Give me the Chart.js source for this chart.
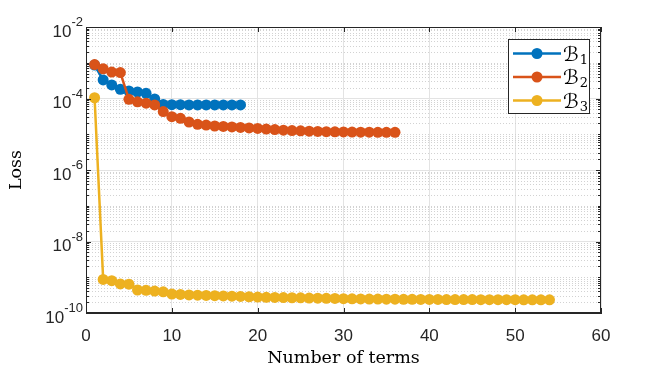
<!DOCTYPE html>
<html>
<head>
<meta charset="utf-8">
<script src="https://cdn.jsdelivr.net/npm/chart.js@4.4.0/dist/chart.umd.min.js"></script>
<style>
  html, body { margin: 0; padding: 0; background: #fff; }
  #wrap { width: 664px; height: 373px; }
</style>
</head>
<body>
<div id="wrap"><canvas id="loss-chart" width="664" height="373"></canvas></div>
<script>
// number of terms (x) - each series uses the first N of these
const terms = [1, 2, 3, 4, 5, 6, 7, 8, 9, 10, 11, 12, 13, 14, 15, 16, 17, 18,
    19, 20, 21, 22, 23, 24, 25, 26, 27, 28, 29, 30, 31, 32, 33, 34, 35, 36,
    37, 38, 39, 40, 41, 42, 43, 44, 45, 46, 47, 48, 49, 50, 51, 52, 53, 54];

const lossB1 = [8.6e-4, 3.3e-4, 2.4e-4, 1.8e-4, 1.62e-4, 1.52e-4, 1.4e-4, 9.7e-5, 6.8e-5,
    6.7e-5, 6.7e-5, 6.6e-5, 6.6e-5, 6.6e-5, 6.6e-5, 6.6e-5, 6.6e-5, 6.6e-5];

const lossB2 = [8.9e-4, 6.8e-4, 5.5e-4, 5.3e-4, 9.5e-5, 8.1e-5, 7.4e-5, 6.6e-5, 4.3e-5,
    3.1e-5, 2.8e-5, 2.2e-5, 1.9e-5, 1.8e-5, 1.7e-5, 1.65e-5, 1.6e-5, 1.55e-5,
    1.5e-5, 1.45e-5, 1.4e-5, 1.35e-5, 1.3e-5, 1.27e-5, 1.25e-5, 1.22e-5, 1.2e-5,
    1.18e-5, 1.17e-5, 1.16e-5, 1.15e-5, 1.14e-5, 1.14e-5, 1.13e-5, 1.13e-5, 1.13e-5];

const lossB3 = [1.05e-4, 8.7e-10, 8.0e-10, 6.5e-10, 6.4e-10, 4.4e-10, 4.3e-10, 4.1e-10, 3.9e-10,
    3.4e-10, 3.3e-10, 3.2e-10, 3.15e-10, 3.1e-10, 3.05e-10, 3.0e-10, 2.95e-10, 2.9e-10,
    2.85e-10, 2.8e-10, 2.75e-10, 2.72e-10, 2.7e-10, 2.67e-10, 2.65e-10, 2.62e-10, 2.6e-10,
    2.57e-10, 2.55e-10, 2.52e-10, 2.5e-10, 2.48e-10, 2.46e-10, 2.45e-10, 2.44e-10, 2.43e-10,
    2.42e-10, 2.41e-10, 2.4e-10, 2.4e-10, 2.39e-10, 2.38e-10, 2.38e-10, 2.37e-10, 2.37e-10,
    2.36e-10, 2.36e-10, 2.35e-10, 2.35e-10, 2.35e-10, 2.34e-10, 2.34e-10, 2.34e-10, 2.33e-10];

const seriesLabels = ['ℬ₁', 'ℬ₂', 'ℬ₃'];
const seriesColors = ['#0072BD', '#D95319', '#EDB120'];

const xTicks = [0, 10, 20, 30, 40, 50, 60];
const yTickExponents = [-10, -8, -6, -4, -2];

const AXIS_COLOR = '#262626';
const TICK_FONT = '"Liberation Sans", Arial, sans-serif';
const SERIF_FONT = '"DejaVu Serif", "Liberation Serif", serif';

function toPoints(values) {
    return values.map((v, i) => ({ x: terms[i], y: v }));
}

function makeDataset(label, values, color, order) {
    return {
        label: label,
        data: toPoints(values),
        borderColor: color,
        backgroundColor: color,
        borderWidth: 2.5,
        pointRadius: 5.5,
        pointBorderWidth: 0,
        pointBackgroundColor: color,
        tension: 0,
        order: order
    };
}

// MATLAB-ish extras: dotted minor grid, inward ticks, box, sup labels, legend
const matlabAxes = {
    id: 'matlabAxes',
    beforeDatasetsDraw(chart) {
        const { ctx, chartArea: a, scales: { y } } = chart;
        ctx.save();
        ctx.strokeStyle = '#d2d2d2';
        ctx.lineWidth = 1;
        ctx.setLineDash([1, 2]);
        for (let e = -10; e < -2; e++) {
            for (let k = 1; k < 10; k++) {
                if (k === 1 && e % 2 === 0) continue;
                const py = Math.round(y.getPixelForValue(k * Math.pow(10, e))) + 0.5;
                ctx.beginPath();
                ctx.moveTo(a.left, py);
                ctx.lineTo(a.right, py);
                ctx.stroke();
            }
        }
        ctx.restore();
    },
    afterDraw(chart) {
        const { ctx, chartArea: a, scales: { x, y } } = chart;
        ctx.save();
        ctx.strokeStyle = AXIS_COLOR;
        ctx.lineWidth = 1;

        // box
        ctx.strokeRect(a.left + 0.5, a.top + 0.5, a.right - a.left - 1, a.bottom - a.top - 1);

        // x ticks, bottom and top, pointing in
        xTicks.forEach(v => {
            const px = Math.round(x.getPixelForValue(v)) + 0.5;
            ctx.beginPath();
            ctx.moveTo(px, a.bottom); ctx.lineTo(px, a.bottom - 5);
            ctx.moveTo(px, a.top); ctx.lineTo(px, a.top + 5);
            ctx.stroke();
        });

        // y ticks, major and minor, left and right
        for (let e = -10; e <= -2; e++) {
            for (let k = 1; k < 10; k++) {
                if (e === -2 && k > 1) break;
                const major = k === 1 && e % 2 === 0;
                const len = major ? 5 : 3;
                const py = Math.round(y.getPixelForValue(k * Math.pow(10, e))) + 0.5;
                ctx.beginPath();
                ctx.moveTo(a.left, py); ctx.lineTo(a.left + len, py);
                ctx.moveTo(a.right, py); ctx.lineTo(a.right - len, py);
                ctx.stroke();
            }
        }

        // y tick labels 10^e
        ctx.fillStyle = AXIS_COLOR;
        ctx.textBaseline = 'alphabetic';
        yTickExponents.forEach(e => {
            const py = y.getPixelForValue(Math.pow(10, e));
            const sup = '-' + Math.abs(e);
            ctx.font = '13px ' + TICK_FONT;
            const supW = ctx.measureText(sup).width;
            ctx.font = '17px ' + TICK_FONT;
            const baseW = ctx.measureText('10').width;
            const right = a.left - 3;
            ctx.textAlign = 'left';
            ctx.fillText('10', right - supW - baseW, py + 9.5);
            ctx.font = '13px ' + TICK_FONT;
            ctx.fillText(sup, right - supW, py - 1);
        });

        // legend
        const box = { left: a.right - 93, top: a.top + 12, width: 81, height: 74 };
        ctx.fillStyle = '#ffffff';
        ctx.fillRect(box.left, box.top, box.width, box.height);
        ctx.strokeStyle = AXIS_COLOR;
        ctx.lineWidth = 1;
        ctx.strokeRect(box.left + 0.5, box.top + 0.5, box.width, box.height);
        chart.data.datasets.forEach((ds, i) => {
            const rowY = box.top + 14.5 + i * 23.5;
            ctx.strokeStyle = ds.borderColor;
            ctx.lineWidth = 2.5;
            ctx.beginPath();
            ctx.moveTo(box.left + 5, rowY);
            ctx.lineTo(box.left + 53, rowY);
            ctx.stroke();
            ctx.fillStyle = ds.borderColor;
            ctx.beginPath();
            ctx.arc(box.left + 29, rowY, 5.5, 0, Math.PI * 2);
            ctx.fill();

            const main = ds.label.charAt(0);
            const sub = String.fromCharCode(ds.label.charCodeAt(1) - 0x2080 + 48);
            ctx.fillStyle = '#000000';
            ctx.textAlign = 'left';
            ctx.font = '20px "DejaVu Sans", sans-serif';
            ctx.fillText(main, box.left + 55, rowY + 7);
            const mw = ctx.measureText(main).width;
            ctx.font = '13px ' + SERIF_FONT;
            ctx.fillText(sub, box.left + 55 + mw + 1, rowY + 10);
        });
        ctx.restore();
    }
};

new Chart(document.getElementById('loss-chart'), {
    type: 'line',
    data: {
        datasets: [
            makeDataset(seriesLabels[0], lossB1, seriesColors[0], 3),
            makeDataset(seriesLabels[1], lossB2, seriesColors[1], 2),
            makeDataset(seriesLabels[2], lossB3, seriesColors[2], 1)
        ]
    },
    plugins: [matlabAxes],
    options: {
        responsive: false,
        devicePixelRatio: 1,
        animation: false,
        layout: { padding: { left: 0, top: 27, right: 63, bottom: 0 } },
        plugins: {
            legend: { display: false },
            tooltip: { enabled: false }
        },
        scales: {
            x: {
                type: 'linear',
                min: 0,
                max: 60,
                afterBuildTicks: s => { s.ticks = xTicks.map(v => ({ value: v })); },
                afterFit: s => { s.height = 60; },
                grid: { color: '#e3e3e3', drawTicks: false },
                border: { color: AXIS_COLOR },
                ticks: {
                    padding: 13,
                    color: AXIS_COLOR,
                    font: { family: TICK_FONT, size: 17 },
                    maxRotation: 0
                },
                title: {
                    display: true,
                    text: 'Number of terms',
                    color: '#000000',
                    font: { family: SERIF_FONT, size: 17.5 },
                    padding: { top: 0, bottom: 4 }
                }
            },
            y: {
                type: 'logarithmic',
                min: 1e-10,
                max: 1e-2,
                afterBuildTicks: s => { s.ticks = yTickExponents.map(e => ({ value: Math.pow(10, e) })); },
                afterFit: s => { s.width = 86; },
                grid: { color: '#e3e3e3', drawTicks: false },
                border: { color: AXIS_COLOR },
                ticks: { display: false },
                title: {
                    display: true,
                    text: 'Loss',
                    color: '#000000',
                    font: { family: SERIF_FONT, size: 17.5 },
                    padding: { top: 6, bottom: 0 }
                }
            }
        }
    }
});
</script>
</body>
</html>
